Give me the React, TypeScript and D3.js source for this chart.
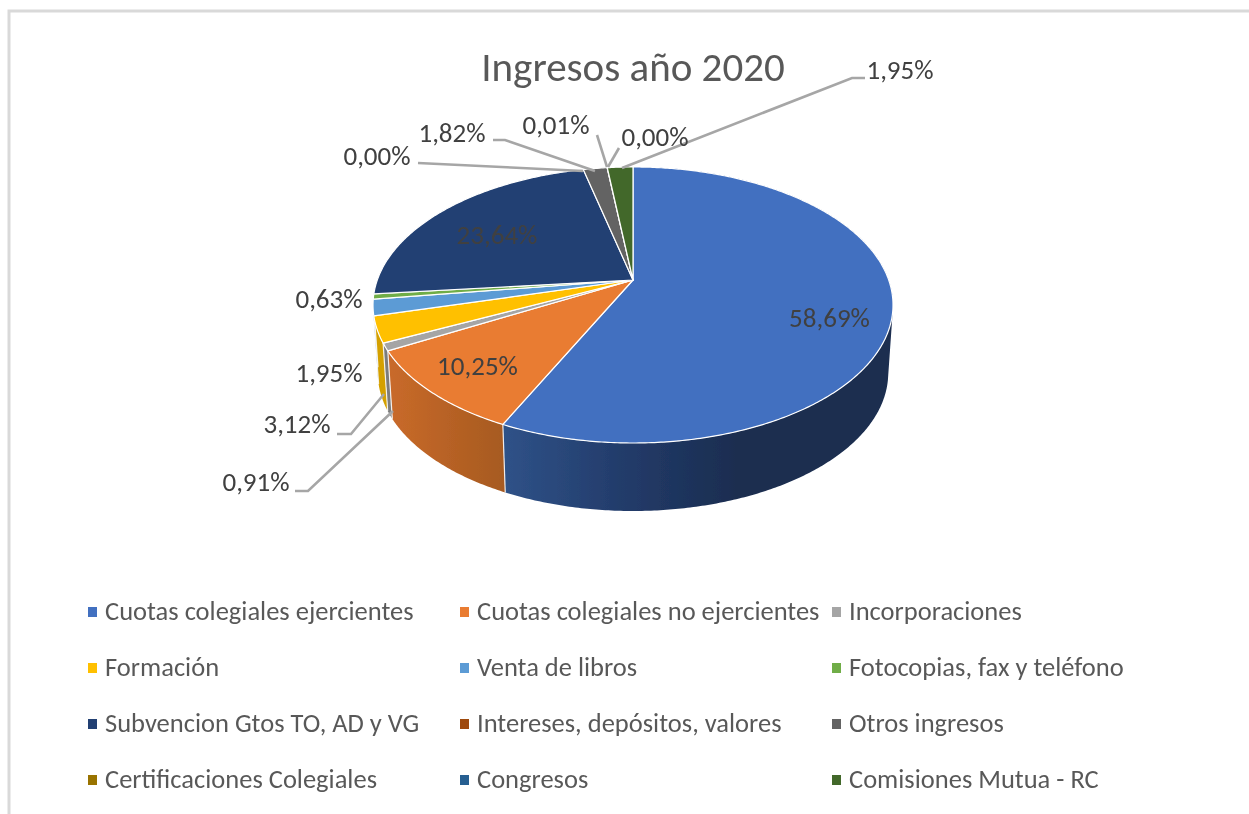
import React from "react";
import * as d3 from "d3";

const categories = [
  "Cuotas colegiales ejercientes", "Cuotas colegiales no ejercientes", "Incorporaciones",
  "Formación", "Venta de libros", "Fotocopias, fax y teléfono",
  "Subvencion Gtos TO, AD y VG", "Intereses, depósitos, valores", "Otros ingresos",
  "Certificaciones Colegiales", "Congresos", "Comisiones Mutua - RC",
];
const values = [58.69, 10.25, 0.91, 3.12, 1.95, 0.63, 23.64, 0.0, 1.82, 0.01, 0.0, 1.95];
const valueLabels = ["58,69%", "10,25%", "0,91%", "3,12%", "1,95%", "0,63%", "23,64%", "0,00%", "1,82%", "0,01%", "0,00%", "1,95%"];
const colors = ["#4270C0", "#E97B31", "#A5A5A5", "#FFC000", "#5B9BD5", "#70AD47", "#244173", "#9E480E", "#636363", "#997300", "#255E91", "#43682B"];
const sideColors = ["url(#sideBlue)", "url(#sideOrange)", "#7c7c7c", "#d4a000", "#44749f", "#558235", "#1c3359", "#76360a", "#4a4a4a", "#735600", "#1c466d", "#324e20"];

// layout
const labelPos: [number, number][] = [[829.5, 327], [477.5, 375], [256, 490.5], [297, 433], [329, 381.5], [329, 308], [497, 244], [377, 164.5], [452, 141.5], [556, 133.5], [655, 146], [900, 79]];
const leaders: ([number, number][] | null)[] = [
  null, null,
  [[295, 491], [308, 491], [393, 411]],
  [[337, 434], [351, 434], [384, 394]],
  null, null, null,
  [[418, 163], [583, 171]],
  [[493, 140], [505, 140], [595, 171]],
  [[597, 135], [607, 167]],
  [[619, 148], [608, 167]],
  [[622, 168], [852, 78], [865, 78]],
];

const FONT = "Carlito, Calibri, Lato, sans-serif";
const cx = 633, k = -0.181, b = 133.5;
const topA = 255.7, topY = 280;
const botA = 251, botY = 348;

const proj = (theta: number, a: number, y0: number): [number, number] => {
  const u = Math.sin(theta), v = -Math.cos(theta);
  const d = 1 + k * v;
  return [cx + (a * u) / d, y0 + (b * v) / d];
};
const arcPts = (t0: number, t1: number, a: number, y0: number) => {
  const n = Math.max(2, Math.ceil(Math.abs(t1 - t0) / 0.01));
  return d3.range(n + 1).map((i) => proj(t0 + ((t1 - t0) * i) / n, a, y0));
};
const line = d3.line<[number, number]>();
const arcs = d3.pie<number>().sort(null).value((d) => d)(values);

// wall of a slice: quads with one winding, so the silhouette is filled too
const wallPath = (t0: number, t1: number) => {
  const tops = arcPts(t0, t1, topA, topY), bots = arcPts(t0, t1, botA, botY);
  return d3.range(tops.length - 1).map((i) => {
    const q: [number, number][] = [tops[i], tops[i + 1], bots[i + 1], bots[i]];
    if (d3.polygonArea(q) < 0) q.reverse();
    return line(q) + "Z";
  }).join("");
};
const wallEnd = (262 * Math.PI) / 180;

const legendX = [88, 460, 832];
const legendY = [612, 668, 724, 780];

export default function App() {
  return (
    <svg width={1249} height={814} style={{ position: "absolute", left: 0, top: 0, background: "#fff" }} fontFamily={FONT}>
      <defs>
        <linearGradient id="sideBlue" gradientUnits="userSpaceOnUse" x1={503} x2={892} y1={0} y2={0}>
          <stop offset="0" stopColor="#2F5288" />
          <stop offset="0.3" stopColor="#233C6B" />
          <stop offset="0.6" stopColor="#1A2D50" />
          <stop offset="1" stopColor="#1A2D50" />
        </linearGradient>
        <linearGradient id="sideOrange" gradientUnits="userSpaceOnUse" x1={388} x2={506} y1={0} y2={0}>
          <stop offset="0" stopColor="#C96A2A" />
          <stop offset="1" stopColor="#A65A20" />
        </linearGradient>
        <filter id="soft" x="-5%" y="-5%" width="110%" height="110%">
          <feGaussianBlur stdDeviation="0.55" />
        </filter>
      </defs>
      <g filter="url(#soft)">
        <path d="M9 814V11H1249" fill="none" stroke="#D9D9D9" strokeWidth={3} />
        <text x={633} y={81} textAnchor="middle" fontSize={41} fill="#595959">Ingresos año 2020</text>

        {/* side walls */}
        {arcs.map((s, i) => {
          const t0 = s.startAngle, t1 = Math.min(s.endAngle, wallEnd);
          if (t1 <= t0 || s.value === 0) return null;
          return <path key={i} d={wallPath(t0, t1)} fill={sideColors[i]} />;
        })}
        {arcs.map((s, i) => {
          if (s.startAngle > wallEnd || s.startAngle === 0 || s.value === 0) return null;
          return <path key={i} d={line([proj(s.startAngle, topA, topY), proj(s.startAngle, botA, botY)]) as string} stroke="#fff" strokeOpacity={0.85} strokeWidth={1.2} fill="none" />;
        })}

        {/* top face */}
        {arcs.map((s, i) => {
          if (s.value === 0) return null;
          const pts: [number, number][] = [[cx, topY], ...arcPts(s.startAngle, s.endAngle, topA, topY)];
          return <path key={i} d={line(pts) + "Z"} fill={colors[i]} stroke="#fff" strokeWidth={1.2} strokeLinejoin="round" />;
        })}

        {/* leader lines */}
        {leaders.map((l, i) => l && <path key={i} d={line(l) as string} fill="none" stroke="#A6A6A6" strokeWidth={2.6} />)}

        {/* data labels */}
        {valueLabels.map((t, i) => (
          <text key={i} x={labelPos[i][0]} y={labelPos[i][1]} textAnchor="middle" fontSize={27} fill="#404040">{t}</text>
        ))}

        {/* legend */}
        {categories.map((c, i) => {
          const x = legendX[i % 3], y = legendY[Math.floor(i / 3)];
          return (
            <g key={c}>
              <rect x={x} y={y - 5} width={9} height={10} fill={colors[i]} />
              <text x={x + 17} y={y + 8} fontSize={26.5} fill="#595959">{c}</text>
            </g>
          );
        })}
      </g>
    </svg>
  );
}
